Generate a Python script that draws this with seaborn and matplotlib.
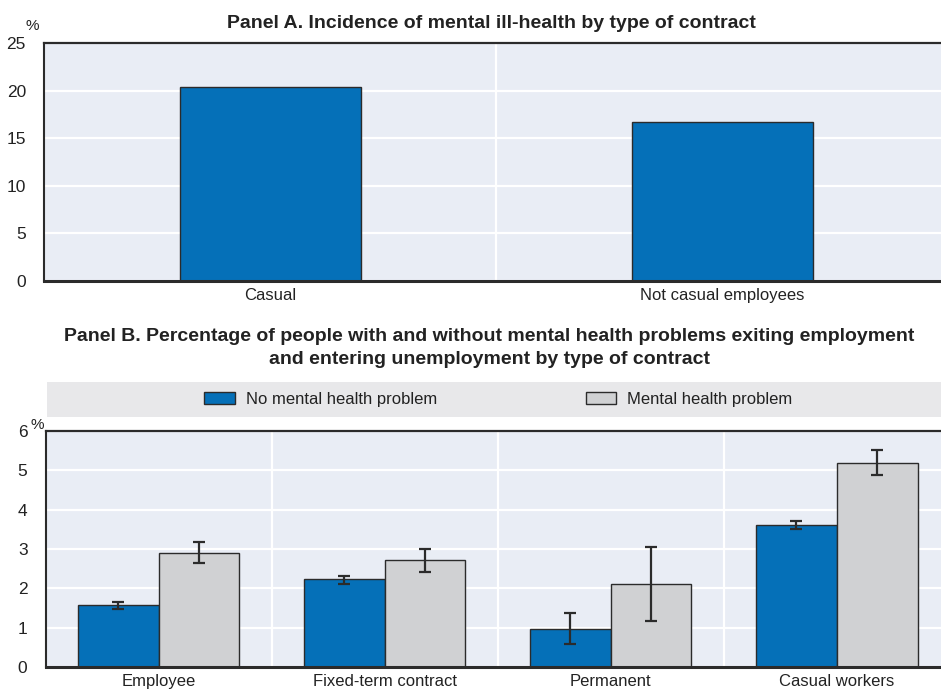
import matplotlib
matplotlib.use("Agg")
import matplotlib.pyplot as plt
import seaborn as sns
import pandas as pd
import numpy as np

# Panel A data
a_categories = ["Casual", "Not casual employees"]
a_values = [20.4, 16.7]

# Panel B data
b_categories = ["Employee", "Fixed-term contract", "Permanent", "Casual workers"]
b_groups = ["No mental health problem", "Mental health problem"]
no_mh = [1.58, 2.23, 0.97, 3.61]
no_mh_lo = [1.48, 2.12, 0.58, 3.51]
no_mh_hi = [1.66, 2.32, 1.38, 3.72]
mh = [2.90, 2.72, 2.10, 5.20]
mh_lo = [2.64, 2.42, 1.17, 4.89]
mh_hi = [3.19, 3.01, 3.04, 5.52]

BLUE = "#0570B8"
GREY = "#D0D1D3"
EDGE = "#2b2b2b"
BG = "#E9EDF5"
TXT = "#222222"

sns.set_style("white")
plt.rcParams["font.family"] = ["Liberation Sans", "DejaVu Sans"]
plt.rcParams["text.color"] = TXT

fig = plt.figure(figsize=(9.41, 6.91), dpi=100)


def style_axes(ax, ymax, step):
    ax.set_facecolor(BG)
    ax.set_ylim(0, ymax)
    ax.set_yticks(np.arange(0, ymax + 0.001, step))
    ax.grid(axis="y", color="white", linewidth=1.6)
    ax.set_axisbelow(True)
    for s in ["left", "bottom", "top"]:
        ax.spines[s].set_visible(True)
        ax.spines[s].set_color(EDGE)
    ax.spines["right"].set_visible(False)
    ax.spines["left"].set_linewidth(1.5)
    ax.spines["bottom"].set_linewidth(2.2)
    ax.spines["top"].set_linewidth(1.6)
    ax.tick_params(axis="y", direction="in", length=5, width=1.2, color=EDGE,
                   labelsize=12.5, pad=13, labelcolor=TXT)
    ax.tick_params(axis="x", length=0, labelsize=12, pad=5, labelcolor=TXT)
    ax.set_xlabel("")
    ax.set_ylabel("")


# ---- Panel A ----
axA = fig.add_axes([0.0468, 0.5933, 0.961, 0.3445])
dfA = pd.DataFrame({"contract": a_categories, "value": a_values})
sns.barplot(data=dfA, x="contract", y="value", color=BLUE, width=0.40,
            edgecolor=EDGE, linewidth=1.0, saturation=1, ax=axA)
style_axes(axA, 25, 5)
axA.set_xlim(-0.5, 1.5)
axA.axvline(0.5, color="white", linewidth=1.6, zorder=0.5)
axA.text(-0.021, 1.04, "%", transform=axA.transAxes, fontsize=11,
         ha="left", va="bottom")
fig.text(0.522, 0.966, "Panel A. Incidence of mental ill-health by type of contract",
         ha="center", va="center", fontsize=14, fontweight="bold")

# ---- Panel B ----
axB = fig.add_axes([0.0484, 0.0347, 0.961, 0.3415])
dfB = pd.DataFrame({
    "contract": b_categories * 2,
    "group": [b_groups[0]] * 4 + [b_groups[1]] * 4,
    "value": no_mh + mh,
})
sns.barplot(data=dfB, x="contract", y="value", hue="group",
            palette=[BLUE, GREY], width=0.714, edgecolor=EDGE, linewidth=1.0,
            saturation=1, ax=axB, legend=False)
style_axes(axB, 6, 1)
axB.set_xlim(-0.5, 3.5)
for xv in [0.5, 1.5, 2.5]:
    axB.axvline(xv, color="white", linewidth=1.6, zorder=0.5)

# Error bars centred on each drawn bar
for cont, vals, lo, hi in zip(axB.containers, [no_mh, mh], [no_mh_lo, mh_lo], [no_mh_hi, mh_hi]):
    xs = [p.get_x() + p.get_width() / 2 for p in cont.patches]
    yerr = [np.subtract(vals, lo), np.subtract(hi, vals)]
    axB.errorbar(xs, vals, yerr=yerr, fmt="none", ecolor=EDGE, elinewidth=1.6,
                 capsize=4.5, capthick=1.6, zorder=5)

axB.text(-0.0165, 1.025, "%", transform=axB.transAxes, fontsize=11,
         ha="left", va="center")

fig.text(0.52, 0.496, "Panel B. Percentage of people with and without mental health problems exiting employment\nand entering unemployment by type of contract",
         ha="center", va="center", fontsize=14, fontweight="bold", linespacing=1.45)

# Legend band
legax = fig.add_axes([0.0500, 0.3965, 0.96, 0.0507])
legax.set_facecolor("#E8E8EA")
legax.set_xlim(0, 1)
legax.set_ylim(0, 1)
legax.set_xticks([])
legax.set_yticks([])
for s in legax.spines.values():
    s.set_visible(False)
handles = [plt.Rectangle((0, 0), 1, 1, facecolor=BLUE, edgecolor=EDGE, linewidth=1.0),
           plt.Rectangle((0, 0), 1, 1, facecolor=GREY, edgecolor=EDGE, linewidth=1.0)]
leg = legax.legend(handles, b_groups, loc="center", ncol=2, frameon=False,
                   fontsize=12, handlelength=1.85, handleheight=0.75,
                   columnspacing=8.9, handletextpad=0.65,
                   bbox_to_anchor=(0.4996, 0.5), borderpad=0, borderaxespad=0)

fig.savefig("out.png", dpi=100)
